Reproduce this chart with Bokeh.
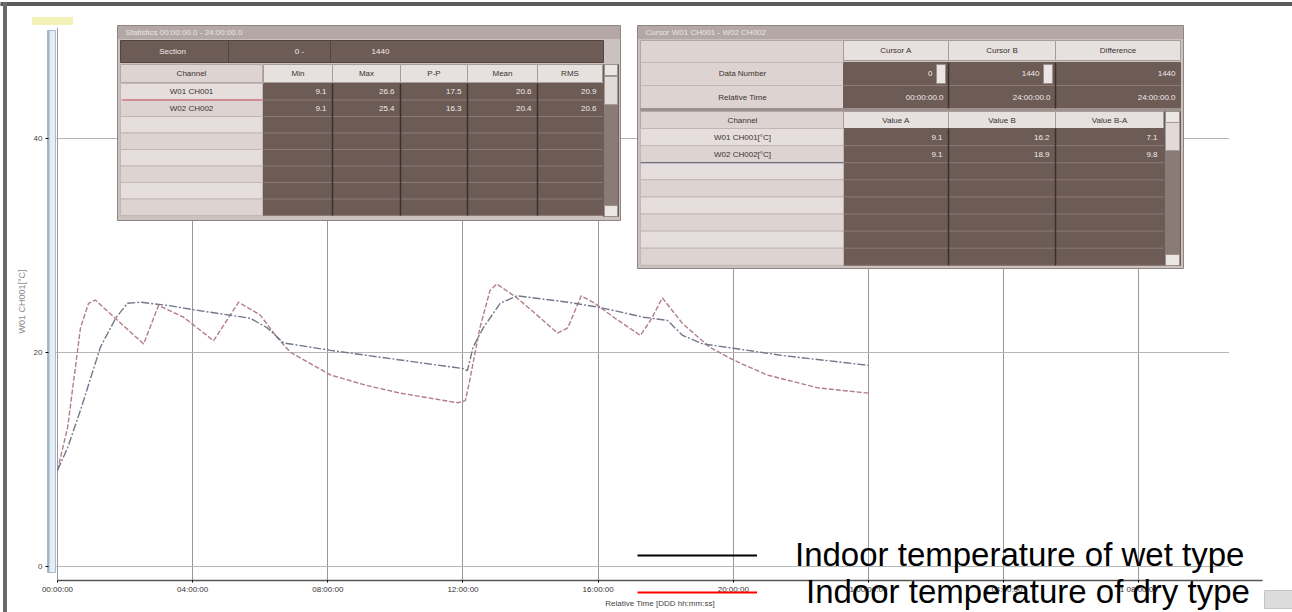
from bokeh.plotting import figure
from bokeh.models import Range1d, FixedTicker, Legend, LegendItem, ColumnDataSource
from bokeh.core.properties import value
from bokeh.embed import file_html
from bokeh.resources import INLINE

# ---------------- data ----------------
dry_hours = [0.0, 0.30, 0.68, 0.92, 1.12, 1.57, 2.55, 2.99, 3.73, 4.62, 5.36, 6.0, 6.5, 6.9,
             8.08, 9.17, 10.15, 11.84, 12.07, 12.2, 12.5, 12.8, 13.0, 13.6, 14.3, 14.8, 15.1,
             15.5, 15.9, 16.5, 17.25, 17.55, 17.9, 18.5, 19.3, 20.0, 21.0, 22.5, 24.0]
dry_temp = [9.0, 13.0, 22.3, 24.6, 24.9, 23.6, 20.8, 24.4, 23.3, 21.1, 24.7, 23.5, 21.4, 20.0,
            17.9, 16.9, 16.2, 15.3, 15.5, 17.4, 22.3, 25.8, 26.4, 25.1, 23.2, 21.8, 22.3,
            25.3, 24.6, 23.2, 21.6, 23.0, 25.1, 22.7, 20.5, 19.3, 17.9, 16.7, 16.2]

wet_hours = [0.0, 0.30, 0.68, 1.27, 1.72, 2.07, 2.46, 3.26, 4.23, 5.71, 6.21, 6.69, 8.08,
             10.15, 12.0, 12.13, 12.3, 12.6, 13.1, 13.6, 15.1, 16.07, 17.34, 18.05, 18.5,
             19.1, 20.0, 21.5, 24.0]
wet_temp = [9.0, 11.1, 14.6, 20.5, 23.2, 24.6, 24.7, 24.4, 23.9, 23.2, 22.3, 20.9, 20.2,
            19.3, 18.5, 18.3, 20.5, 22.3, 24.6, 25.3, 24.7, 24.2, 23.3, 23.0, 21.6,
            20.8, 20.4, 19.7, 18.8]

tick_hours = [0, 4, 8, 12, 16, 20, 24, 28, 32]
tick_labels = ["00:00:00", "04:00:00", "08:00:00", "12:00:00", "16:00:00", "20:00:00",
               "1 00:00:00", "1 04:00:00", "1 08:00:00"]
y_ticks = [0, 20, 40]
y_labels = ["0", "20", "40"]

legend_labels = ["Indoor temperature of wet type", "Indoor temperature of dry type"]

stat_columns = ["Min", "Max", "P-P", "Mean", "RMS"]
stat_channels = ["W01 CH001", "W02 CH002"]
stat_values = [["9.1", "26.6", "17.5", "20.6", "20.9"],
               ["9.1", "25.4", "16.3", "20.4", "20.6"]]
section_values = ["0  -", "1440"]

cursor_headers = ["Cursor A", "Cursor B", "Difference"]
cursor_data_number = ["0", "1440", "1440"]
cursor_rel_time = ["00:00:00.0", "24:00:00.0", "24:00:00.0"]
value_headers = ["Value A", "Value B", "Value B-A"]
value_channels = ["W01 CH001[°C]", "W02 CH002[°C]"]
value_rows = [["9.1", "16.2", "7.1"],
              ["9.1", "18.9", "9.8"]]

# ---------------- layout (page pixels) ----------------
W, H = 1292, 612
X0, PX_H = 57, 33.79        # x pixel of hour 0, pixels per hour
Y0, PX_C = 566, 10.7        # y pixel of 0 degC, pixels per degC
AX_Y = 580                  # x-axis line
AX_X = 48                   # y-axis line
PLOT_R = 1228               # right end of the grid


def hx(px):
    return (px - X0) / PX_H


def ty(py):
    return (Y0 - py) / PX_C


p = figure(width=W, height=H, output_backend="svg", toolbar_location=None,
           x_range=Range1d(hx(0), hx(W)), y_range=Range1d(ty(H), ty(0)),
           min_border_left=0, min_border_right=0, min_border_top=0, min_border_bottom=0)
p.extra_x_ranges = {"px": Range1d(0, W)}
p.extra_y_ranges = {"py": Range1d(H, 0)}
p.outline_line_color = None
p.background_fill_color = "white"
p.border_fill_color = "white"

xt = FixedTicker(ticks=tick_hours)
p.xaxis.ticker = xt
p.xaxis.fixed_location = ty(AX_Y)
p.xaxis.bounds = (0, hx(1262))
p.xaxis.major_label_overrides = {h: s for h, s in zip(tick_hours, tick_labels)}
p.xaxis.axis_label = "Relative Time [DDD hh:mm:ss]"
p.xaxis.axis_label_text_font_size = "8px"
p.xaxis.axis_label_text_font_style = "normal"
p.xaxis.axis_label_text_color = "#444444"
p.xaxis.axis_label_standoff = 2
p.xaxis.major_label_text_font_size = "8px"
p.xaxis.major_label_text_color = "#333333"
p.xaxis.major_label_standoff = 2
p.xaxis.major_tick_out = 2
p.xaxis.major_tick_in = 0
p.xaxis.minor_tick_out = 0
p.xaxis.minor_tick_in = 0
p.xaxis.axis_line_color = "#555555"
p.xaxis.axis_line_width = 1.5

yt = FixedTicker(ticks=y_ticks)
p.yaxis.ticker = yt
p.yaxis.fixed_location = hx(AX_X)
p.yaxis.bounds = (ty(572), ty(30))
p.yaxis.major_label_overrides = {t: s for t, s in zip(y_ticks, y_labels)}
p.yaxis.axis_label = "W01 CH001[°C]"
p.yaxis.axis_label_text_font_size = "9px"
p.yaxis.axis_label_text_font_style = "normal"
p.yaxis.axis_label_text_color = "#8a8a8a"
p.yaxis.axis_label_standoff = 4
p.yaxis.major_label_text_font_size = "8px"
p.yaxis.major_label_text_color = "#444444"
p.yaxis.major_label_standoff = 3
p.yaxis.major_tick_out = 3
p.yaxis.major_tick_in = 0
p.yaxis.minor_tick_out = 0
p.yaxis.minor_tick_in = 0
p.yaxis.axis_line_color = "#9db4c6"
p.yaxis.axis_line_width = 2

p.xgrid.ticker = xt
p.xgrid.grid_line_color = "#999999"
p.xgrid.grid_line_width = 1
p.ygrid.ticker = yt
p.ygrid.grid_line_color = "#b5b5b5"
p.ygrid.grid_line_width = 1

# ---------------- decorations in page pixels ----------------
Q = dict(l=[], r=[], t=[], b=[], fill=[], line=[])
S = dict(x0=[], y0=[], x1=[], y1=[], c=[], w=[])
T = {"left": [], "center": [], "right": []}

DARK = "#6d5b56"
DARK_LN = "#8c7b76"
DARK_SEP = "#3d302c"
LIGHT = "#ddd4d1"
LIGHT2 = "#e5dedc"
HEAD = "#e6e0de"
TXT_D = "#3c3230"
TXT_L = "#f1ebe9"


def box(l, r, t, b, fill, line=None):
    Q["l"].append(l); Q["r"].append(r); Q["t"].append(t); Q["b"].append(b)
    Q["fill"].append(fill); Q["line"].append(line if line else fill)


def seg(x0, y0, x1, y1, c, w=1.0):
    S["x0"].append(x0); S["y0"].append(y0); S["x1"].append(x1); S["y1"].append(y1)
    S["c"].append(c); S["w"].append(w)


def txt(x, y, s, align="center", color=TXT_D):
    T[align].append((x, y, s, color))


def scrollbar(x0, x1, top, bot, thumb_t, thumb_b):
    box(x0, x1, top, bot, "#8a7b77", "#6a5c58")
    box(x0 + 1, x1 - 1, top, top + 11, "#ebe5e3", "#9c908c")
    box(x0 + 1, x1 - 1, bot - 11, bot, "#ebe5e3", "#9c908c")
    box(x0 + 1, x1 - 1, thumb_t, thumb_b, "#e1dad8", "#a69a96")


# white masks so the grid only covers the plotting area
box(0, W, 0, 27, "white")
box(0, AX_X - 1, 0, H, "white")
box(PLOT_R + 1, W, 0, H, "white")
box(0, W, AX_Y + 1, H, "white")
# screenshot frame, highlight and axis band
box(0, W, 2, 5, "#5a5a5a")
box(3, 6, 2, H, "#6a6a6a")
box(32, 72, 17, 24, "#f4f1b8")
box(AX_X - 1, AX_X + 7, 30, 572, "#e4edf3", "#a9bfcf")
box(1264, W, 590, 608, "#dcdcdc", "#c4c4c4")

# left window: statistics
lx0, lx1, ly0, ly1 = 117, 620, 25, 220
box(lx0, lx1, ly0, ly1, "#cbc1be", "#8f8582")
box(lx0 + 1, lx1 - 1, ly0 + 1, ly0 + 13, "#b3a8a5")
txt(lx0 + 8, ly0 + 7, "Statistics  00:00:00.0 - 24:00:00.0", "left", "#ece6e4")
box(120, 603, 40, 62, DARK, "#54443f")
seg(228, 40, 228, 62, "#54443f"); seg(330, 40, 330, 62, "#54443f")
txt(172, 51, "Section", "center", TXT_L)
txt(300, 51, section_values[0], "center", TXT_L)
txt(380, 51, section_values[1], "center", TXT_L)
box(120, 262, 64, 82, LIGHT, "#b3a8a5")
txt(191, 73, "Channel")
col_edges = [263, 332, 400, 467, 537, 602]
for i, name in enumerate(stat_columns):
    box(col_edges[i], col_edges[i + 1], 64, 82, HEAD, "#a89c98")
    txt((col_edges[i] + col_edges[i + 1]) / 2, 73, name)
rows_top, row_h, n_rows = 83, 16.5, 8
box(263, 602, rows_top, rows_top + row_h * n_rows, DARK, DARK)
for k in range(n_rows):
    t0 = rows_top + row_h * k
    box(120, 262, t0, t0 + row_h, LIGHT if k % 2 else LIGHT2, "#c2b7b4")
    seg(263, t0 + row_h, 602, t0 + row_h, DARK_LN)
for e in col_edges[1:-1]:
    seg(e, rows_top, e, rows_top + row_h * n_rows, DARK_SEP, 1.5)
for k, ch in enumerate(stat_channels):
    yc = rows_top + row_h * k + row_h / 2
    txt(191, yc, ch)
    for i, v in enumerate(stat_values[k]):
        txt(col_edges[i + 1] - 6, yc, v, "right", TXT_L)
seg(122, rows_top + row_h, 262, rows_top + row_h, "#d27a86", 1.5)
scrollbar(603, 618, 64, 216, 76, 104)

# right window: cursor values
rx0, rx1, ry0, ry1 = 637, 1183, 25, 268
box(rx0, rx1, ry0, ry1, "#cbc1be", "#8f8582")
box(rx0 + 1, rx1 - 1, ry0 + 1, ry0 + 13, "#b3a8a5")
txt(rx0 + 8, ry0 + 7, "Cursor  W01 CH001 - W02 CH002", "left", "#ece6e4")
box(640, 843, 40, 108, LIGHT, "#b3a8a5")
seg(640, 85, 843, 85, "#c2b7b4")
seg(640, 62, 843, 62, "#c2b7b4")
cur_edges = [843, 948, 1055, 1180]
for i, name in enumerate(cursor_headers):
    box(cur_edges[i], cur_edges[i + 1], 40, 60, HEAD, "#a89c98")
    txt((cur_edges[i] + cur_edges[i + 1]) / 2, 50, name)
box(843, 1180, 62, 108, DARK, DARK)
seg(843, 85, 1180, 85, DARK_LN)
for e in cur_edges[1:-1]:
    seg(e, 62, e, 108, DARK_SEP, 1.5)
txt(742, 73, "Data Number")
txt(742, 97, "Relative Time")
for i in range(3):
    pad = 16 if i < 2 else 5
    txt(cur_edges[i + 1] - pad, 73, cursor_data_number[i], "right", TXT_L)
    txt(cur_edges[i + 1] - 5, 97, cursor_rel_time[i], "right", TXT_L)
for i in range(2):
    box(cur_edges[i + 1] - 12, cur_edges[i + 1] - 3, 64, 83, "#ebe5e3", "#9c908c")
box(640, 1180, 108, 111, "#9e928e")
box(640, 843, 111, 128, LIGHT, "#b3a8a5")
txt(742, 120, "Channel")
val_edges = [843, 948, 1055, 1163]
for i, name in enumerate(value_headers):
    box(val_edges[i], val_edges[i + 1], 111, 128, HEAD, "#a89c98")
    txt((val_edges[i] + val_edges[i + 1]) / 2, 120, name)
vrow_top, vrow_h = 128, 17.1
box(843, 1163, vrow_top, vrow_top + vrow_h * n_rows, DARK, DARK)
for k in range(n_rows):
    t0 = vrow_top + vrow_h * k
    box(640, 843, t0, t0 + vrow_h, LIGHT if k % 2 else LIGHT2, "#c2b7b4")
    seg(843, t0 + vrow_h, 1163, t0 + vrow_h, DARK_LN)
for e in val_edges[1:-1]:
    seg(e, vrow_top, e, vrow_top + vrow_h * n_rows, DARK_SEP, 1.5)
for k, ch in enumerate(value_channels):
    yc = vrow_top + vrow_h * k + vrow_h / 2
    txt(742, yc, ch)
    for i, v in enumerate(value_rows[k]):
        txt(val_edges[i + 1] - 6, yc, v, "right", TXT_L)
seg(640, vrow_top + vrow_h * 2, 843, vrow_top + vrow_h * 2, "#6b6f80", 1.2)
scrollbar(1164, 1180, 111, 265, 122, 150)

p.quad(left="l", right="r", top="t", bottom="b", fill_color="fill", line_color="line",
       source=ColumnDataSource(Q), x_range_name="px", y_range_name="py")
p.segment(x0="x0", y0="y0", x1="x1", y1="y1", line_color="c", line_width="w",
          source=ColumnDataSource(S), x_range_name="px", y_range_name="py")
for align, items in T.items():
    if not items:
        continue
    src = ColumnDataSource(dict(x=[a[0] for a in items], y=[a[1] for a in items],
                                s=[a[2] for a in items], c=[a[3] for a in items]))
    p.text(x="x", y="y", text="s", text_color="c", text_align=align,
           text_baseline="middle", text_font=value("Liberation Sans"),
           text_font_size="8px", source=src, x_range_name="px", y_range_name="py")

# ---------------- data curves ----------------
p.line(dry_hours, dry_temp, line_color="#b27d88", line_width=1.4, line_dash="5 2")
p.line(wet_hours, wet_temp, line_color="#72778a", line_width=1.4, line_dash="8 2 2 2")

# ---------------- legend ----------------
nan = float("nan")
r_wet = p.line(x=[nan, nan], y=[nan, nan], line_color="black", line_width=2)
r_dry = p.line(x=[nan, nan], y=[nan, nan], line_color="red", line_width=2)
leg_style = dict(glyph_width=120, glyph_height=20, label_text_font="Liberation Sans",
                 label_text_font_size="33px", label_text_color="black", padding=0,
                 margin=0, spacing=0, border_line_color=None, background_fill_alpha=0)
leg_wet = Legend(items=[LegendItem(label=legend_labels[0], renderers=[r_wet])],
                 location=(637, 38), label_standoff=38, **leg_style)
leg_dry = Legend(items=[LegendItem(label=legend_labels[1], renderers=[r_dry])],
                 location=(637, 1), label_standoff=49, **leg_style)
p.add_layout(leg_wet)
p.add_layout(leg_dry)

open("out.html", "w").write(file_html(p, INLINE))
